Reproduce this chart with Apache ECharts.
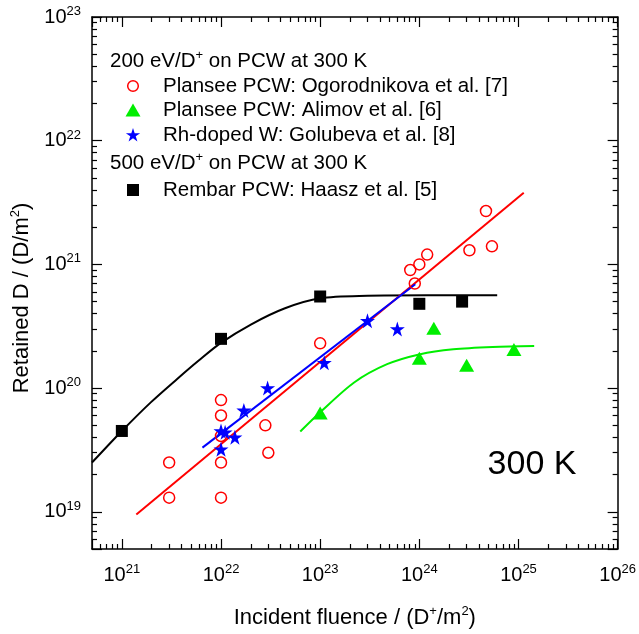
<!DOCTYPE html>
<html>
<head>
<meta charset="utf-8">
<title>Retained D vs incident fluence</title>
<script src="https://cdn.jsdelivr.net/npm/echarts@6/dist/echarts.min.js"></script>
<style>
  html, body { margin: 0; padding: 0; background: #fff; }
  #chart { width: 639px; height: 634px; }
</style>
</head>
<body>
<div id="chart"></div>
<script>
// Axis ranges (log scales)
const xMin = 5e20, xMax = 1e26;
const yMin = 5e18, yMax = 1e23;

// Plansee PCW: Ogorodnikova et al. [7]
const ogoX = [3e21, 3e21, 1e22, 1e22, 1e22, 1e22, 1e22, 2.8e22, 3e22, 1e23, 8.1e23, 9e23, 1e24, 1.2e24, 3.2e24, 4.7e24, 5.4e24];
const ogoY = [2.5e19, 1.3e19, 8e19, 6e19, 4.1e19, 2.5e19, 1.3e19, 5e19, 3e19, 2.3e20, 9e20, 7e20, 1e21, 1.2e21, 1.3e21, 2.7e21, 1.4e21];
const ogoFitX = [1.4e21, 1.13e25];
const ogoFitY = [9.5e18, 3.8e21];

// Plansee PCW: Alimov et al. [6]
const alimovX = [1e23, 1e24, 1.4e24, 3e24, 9e24];
const alimovY = [6.3e19, 1.74e20, 3.05e20, 1.53e20, 2.05e20];
const alimovFitX = [6.3e22, 1e23, 2.2e23, 4.73e23, 1.02e24, 2.2e24, 5.5e24, 1.44e25];
const alimovFitY = [4.45e19, 6.37e19, 1.11e20, 1.56e20, 1.88e20, 2.06e20, 2.15e20, 2.19e20];

// Rh-doped W: Golubeva et al. [8]
const golubX = [1e22, 1.1e22, 1.38e22, 1e22, 1.7e22, 2.95e22, 1.1e23, 3e23, 6e23];
const golubY = [4.5e19, 4.4e19, 4e19, 3.2e19, 6.6e19, 1e20, 1.6e20, 3.5e20, 3e20];
const golubFitX = [6.5e21, 9.1e23];
const golubFitY = [3.3e19, 6.9e20];

// Rembar PCW: Haasz et al. [5]
const haaszX = [1e21, 1e22, 1e23, 1e24, 2.7e24];
const haaszY = [4.5e19, 2.5e20, 5.5e20, 4.8e20, 5e20];
const haaszFitX = [5e20, 1e21, 1.97e21, 3.59e21, 5.96e21, 9.9e21, 2.02e22, 4.42e22, 1e23, 3e23, 1.2e24, 6.1e24];
const haaszFitY = [2.5e19, 4.5e19, 7.7e19, 1.18e20, 1.67e20, 2.31e20, 3.28e20, 4.42e20, 5.32e20, 5.57e20, 5.62e20, 5.62e20];

// Decade exponents used for the minor tick marks
const xDecades = [20, 21, 22, 23, 24, 25];
const yDecades = [18, 19, 20, 21, 22];

const FONT = '"Liberation Sans", Arial, Helvetica, sans-serif';
const RED = '#ff0000', GREEN = '#00ee00', BLUE = '#0000ff', BLACK = '#000000';
const STAR = 'path://M50,0 L61.2,34.5 L97.6,34.5 L68.2,55.9 L79.4,90.5 L50,69.1 L20.6,90.5 L31.8,55.9 L2.4,34.5 L38.8,34.5 Z';
const STAR_PTS = [[50, 0], [61.2, 34.5], [97.6, 34.5], [68.2, 55.9], [79.4, 90.5], [50, 69.1], [20.6, 90.5], [31.8, 55.9], [2.4, 34.5], [38.8, 34.5]];

const zip = (xs, ys) => xs.map((x, i) => [x, ys[i]]);

// Minor log tick values (2..9 x 10^n) inside an axis range
function minorTicks(decades, lo, hi) {
  const out = [];
  decades.forEach(e => {
    for (let m = 2; m <= 9; m++) {
      const v = m * Math.pow(10, e);
      if (v > lo * 1.001 && v < hi * 0.999) out.push(v);
    }
  });
  return out;
}
const xMinor = minorTicks(xDecades, xMin, xMax);
const yMinor = minorTicks(yDecades, yMin, yMax);

const supRich = {
  base: { fontSize: 20, fontFamily: FONT, color: '#000' },
  sup: { fontSize: 13, fontFamily: FONT, color: '#000', padding: [0, 0, 11, 0] }
};
function powLabel(v) {
  const e = Math.log10(v);
  const r = Math.round(e);
  if (Math.abs(e - r) > 1e-6) return '';
  return '{base|10}{sup|' + r + '}';
}
const nameRich = { sup: { fontSize: 13, fontFamily: FONT, color: '#000', padding: [0, 0, 12, 0] } };

const LEG_FONT = '20.5px ' + FONT;
const textSup = { sup: { fontSize: 13, fontFamily: FONT, fill: '#000', padding: [0, 0, 11, 0] } };

// legend star marker around a centre point
function starPoints(cx, cy, size) {
  const s = size / 100;
  return STAR_PTS.map(p => [cx + (p[0] - 50) * s, cy + (p[1] - 47) * s]);
}

const legendGraphics = [
  { type: 'text', x: 110, y: 61, style: { text: '200 eV/D{sup|+} on PCW at 300 K', font: LEG_FONT, fill: '#000', verticalAlign: 'middle', rich: textSup } },
  { type: 'circle', shape: { cx: 133, cy: 86, r: 5.3 }, style: { fill: 'none', stroke: RED, lineWidth: 1.5 } },
  { type: 'text', x: 163, y: 86, style: { text: 'Plansee PCW: Ogorodnikova et al. [7]', font: LEG_FONT, fill: '#000', verticalAlign: 'middle' } },
  { type: 'polygon', shape: { points: [[133, 103.5], [140.5, 116.5], [125.5, 116.5]] }, style: { fill: GREEN } },
  { type: 'text', x: 163, y: 110, style: { text: 'Plansee PCW: Alimov et al. [6]', font: LEG_FONT, fill: '#000', verticalAlign: 'middle' } },
  { type: 'polygon', shape: { points: starPoints(133, 135, 15) }, style: { fill: BLUE } },
  { type: 'text', x: 163, y: 135, style: { text: 'Rh-doped W: Golubeva et al. [8]', font: LEG_FONT, fill: '#000', verticalAlign: 'middle' } },
  { type: 'text', x: 110, y: 163, style: { text: '500 eV/D{sup|+} on PCW at 300 K', font: LEG_FONT, fill: '#000', verticalAlign: 'middle', rich: textSup } },
  { type: 'rect', shape: { x: 127, y: 184, width: 12, height: 12 }, style: { fill: BLACK } },
  { type: 'text', x: 163, y: 190, style: { text: 'Rembar PCW: Haasz et al. [5]', font: LEG_FONT, fill: '#000', verticalAlign: 'middle' } },
  // temperature annotation
  { type: 'text', x: 532, y: 465, style: { text: '300 K', font: '34px ' + FONT, fill: '#000', align: 'center', verticalAlign: 'middle' } }
];

const tickLine = { color: '#000', width: 1.2 };
const frameLine = { color: '#000', width: 1.5 };

// Tick-only companion axes: same log range, mirrored on each side of the frame
function tickAxis(lo, hi, position, customValues, length, withLine) {
  const ax = {
    type: 'log', logBase: 10, min: lo, max: hi, position: position, z: 6,
    axisLine: { show: !!withLine, lineStyle: frameLine }, splitLine: { show: false }, axisLabel: { show: false },
    axisTick: { show: true, inside: true, length: length, lineStyle: tickLine }
  };
  if (customValues) ax.axisTick.customValues = customValues;
  return ax;
}

const option = {
  animation: false,
  backgroundColor: '#fff',
  grid: { left: 92, right: 16, top: 17, bottom: 85, show: false },
  xAxis: [
    {
      type: 'log', logBase: 10, min: xMin, max: xMax, position: 'bottom', z: 6,
      splitLine: { show: false },
      axisTick: { show: true, inside: true, length: 10, lineStyle: tickLine },
      axisLine: { show: true, lineStyle: frameLine },
      axisLabel: { formatter: powLabel, rich: supRich, margin: 14, hideOverlap: false, showMinLabel: true, showMaxLabel: true },
      name: 'Incident fluence / (D{sup|+}/m{sup|2})',
      nameLocation: 'middle', nameGap: 56,
      nameTextStyle: { fontSize: 22, fontFamily: FONT, color: '#000', rich: nameRich }
    },
    tickAxis(xMin, xMax, 'bottom', xMinor, 5, false),
    tickAxis(xMin, xMax, 'top', null, 10, true),
    tickAxis(xMin, xMax, 'top', xMinor, 5, false)
  ],
  yAxis: [
    {
      type: 'log', logBase: 10, min: yMin, max: yMax, position: 'left', z: 6,
      splitLine: { show: false },
      axisTick: { show: true, inside: true, length: 10, lineStyle: tickLine },
      axisLine: { show: true, lineStyle: frameLine },
      axisLabel: { formatter: powLabel, rich: supRich, margin: 11, hideOverlap: false },
      name: 'Retained D / (D/m{sup|2})',
      nameLocation: 'middle', nameGap: 58, nameRotate: 90,
      nameTextStyle: { fontSize: 22, fontFamily: FONT, color: '#000', rich: nameRich, padding: [0, 30, 0, 0] }
    },
    tickAxis(yMin, yMax, 'left', yMinor, 5, false),
    tickAxis(yMin, yMax, 'right', null, 10, true),
    tickAxis(yMin, yMax, 'right', yMinor, 5, false)
  ],
  series: [
    // fit curves
    { name: 'Haasz fit', type: 'line', data: zip(haaszFitX, haaszFitY), showSymbol: false, smooth: 0.3, lineStyle: { color: BLACK, width: 2 }, silent: true, z: 2 },
    { name: 'Alimov fit', type: 'line', data: zip(alimovFitX, alimovFitY), showSymbol: false, smooth: 0.3, lineStyle: { color: GREEN, width: 2 }, silent: true, z: 2 },
    { name: 'Ogorodnikova fit', type: 'line', data: zip(ogoFitX, ogoFitY), showSymbol: false, lineStyle: { color: RED, width: 2 }, silent: true, z: 2 },
    { name: 'Golubeva fit', type: 'line', data: zip(golubFitX, golubFitY), showSymbol: false, lineStyle: { color: BLUE, width: 2 }, silent: true, z: 2 },
    // measured points
    { name: 'Plansee PCW: Ogorodnikova et al. [7]', type: 'scatter', data: zip(ogoX, ogoY), symbol: 'circle', symbolSize: 11,
      itemStyle: { color: 'rgba(0,0,0,0)', borderColor: RED, borderWidth: 1.5, opacity: 1 }, z: 3 },
    { name: 'Plansee PCW: Alimov et al. [6]', type: 'scatter', data: zip(alimovX, alimovY), symbol: 'triangle', symbolSize: [15, 13],
      itemStyle: { color: GREEN, opacity: 1 }, z: 3 },
    { name: 'Rh-doped W: Golubeva et al. [8]', type: 'scatter', data: zip(golubX, golubY), symbol: STAR, symbolSize: 15,
      itemStyle: { color: BLUE, opacity: 1 }, z: 4 },
    { name: 'Rembar PCW: Haasz et al. [5]', type: 'scatter', data: zip(haaszX, haaszY), symbol: 'rect', symbolSize: 12,
      itemStyle: { color: BLACK, opacity: 1 }, z: 4 }
  ],
  graphic: { elements: legendGraphics }
};

const chart = echarts.init(document.getElementById('chart'), null, { renderer: 'canvas' });
chart.setOption(option);
</script>
</body>
</html>
